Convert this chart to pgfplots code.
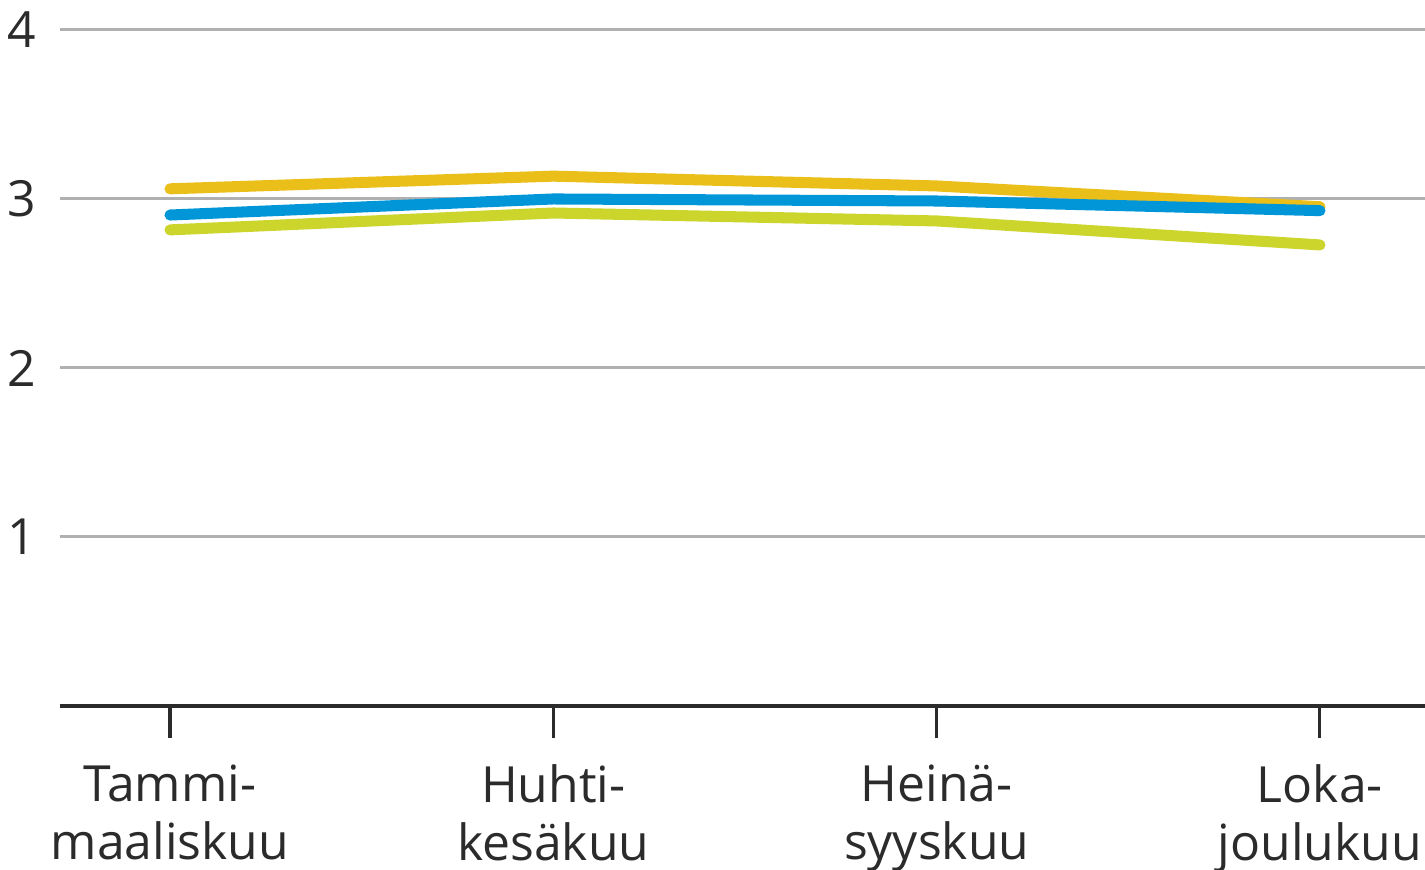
\documentclass[border=0pt]{standalone}
\usepackage{pgfplots}
\pgfplotsset{compat=1.18}
\usepackage{fontspec}
\setmainfont{Open Sans}

\definecolor{sarjaoranssi}{HTML}{EBBF1A}
\definecolor{sarjasininen}{HTML}{0096D8}
\definecolor{sarjavihrea}{HTML}{CBD52C}
\definecolor{ruudukko}{HTML}{B0B0B0}
\definecolor{akseli}{HTML}{2B2B2B}

\begin{document}
\begin{tikzpicture}
\useasboundingbox (0,0) rectangle (400pt,244.21pt);
\begin{axis}[
  at={(16.84pt,46.04pt)}, anchor=south west,
  scale only axis,
  width=383.16pt, height=189.76pt,
  xmin=-0.287, xmax=3.274,
  ymin=0, ymax=4,
  axis x line=bottom, axis y line=left,
  x axis line style={-, draw=akseli, line width=0.9pt},
  y axis line style={draw=none},
  xtick={0,1,2,3},
  xticklabels={{Tammi-\\maaliskuu},{Huhti-\\kes\"akuu},{Hein\"a-\\syyskuu},{Loka-\\joulukuu}},
  xtick style={draw=akseli, line width=0.85pt},
  tick align=outside,
  major tick length=9pt,
  ytick={1,2,3,4},
  ytick style={draw=none},
  ymajorgrids,
  grid style={draw=ruudukko, line width=0.85pt},
  /pgf/number format/assume math mode=true,
  tick label style={font=\fontsize{14}{16.3}\selectfont, text=akseli},
  xticklabel style={align=center, yshift=-4pt},
  yticklabel style={xshift=5.9pt},
  clip=false,
]
\addplot[sarjaoranssi, line width=3.1pt, line cap=round, line join=round]
  coordinates {(0,3.060) (1,3.135) (2,3.077) (3,2.954)};
\addplot[sarjavihrea, line width=3.1pt, line cap=round, line join=round]
  coordinates {(0,2.817) (1,2.917) (2,2.870) (3,2.728)};
\addplot[sarjasininen, line width=3.1pt, line cap=round, line join=round]
  coordinates {(0,2.905) (1,3.000) (2,2.988) (3,2.931)};
\end{axis}
\end{tikzpicture}
\end{document}
